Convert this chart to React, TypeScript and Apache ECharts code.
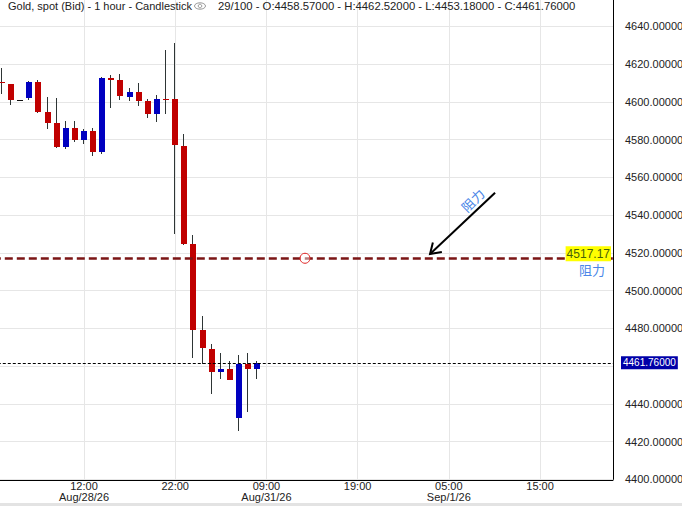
import React, { useEffect, useRef } from "react";
import * as echarts from "echarts";

const FONT = "'Liberation Sans', Arial, Helvetica, sans-serif";

// hourly sessions shown on the category axis
const sessions = [
  { day: "08/28", firstHour: 2, hours: 21 },
  { day: "08/31", firstHour: 0, hours: 24 },
  { day: "09/01", firstHour: 0, hours: 24 },
];
const categories: string[] = [];
sessions.forEach((s) => {
  for (let i = 0; i < s.hours; i++) {
    categories.push(`${s.day} ${String(s.firstHour + i).padStart(2, "0")}:00`);
  }
});

const tickLabels: Record<string, string> = {
  "08/28 12:00": "12:00\nAug/28/26",
  "08/28 22:00": "22:00",
  "08/31 09:00": "09:00\nAug/31/26",
  "08/31 19:00": "19:00",
  "09/01 05:00": "05:00\nSep/1/26",
  "09/01 15:00": "15:00",
};

const firstBar = "08/28 03:00";
const opens = [4610.6, 4609.5, 4600.9, 4602.1, 4610.6, 4594.7, 4588.9, 4576.1, 4586.2, 4579.9, 4584.6, 4573.5, 4612.7, 4611.7, 4602.7, 4605.3, 4600.5, 4593.6, 4601.6, 4601.6, 4576.7, 4524.7, 4479.1, 4469.0, 4456.8, 4458.4, 4432.5, 4461.1, 4458.57];
const highs = [4618.0, 4609.5, 4600.9, 4611.1, 4611.7, 4602.7, 4602.1, 4589.9, 4589.9, 4585.7, 4586.2, 4613.3, 4614.3, 4614.8, 4607.4, 4610.1, 4601.6, 4603.7, 4627.6, 4631.3, 4583.0, 4529.5, 4486.5, 4471.7, 4466.9, 4462.7, 4465.9, 4466.9, 4462.52];
const lows = [4604.2, 4598.4, 4600.9, 4601.1, 4594.2, 4585.7, 4575.6, 4575.1, 4578.8, 4577.7, 4571.4, 4572.4, 4596.8, 4601.1, 4600.5, 4597.9, 4591.5, 4589.4, 4593.8, 4530.0, 4524.2, 4464.4, 4461.1, 4445.2, 4453.1, 4452.6, 4425.6, 4435.6, 4453.18];
const closes = [4609.9, 4601.1, 4600.9, 4610.6, 4594.7, 4588.9, 4576.1, 4586.2, 4579.9, 4584.6, 4573.5, 4612.7, 4611.7, 4603.2, 4605.3, 4600.5, 4593.6, 4601.6, 4601.1, 4577.2, 4524.7, 4479.1, 4469.6, 4456.8, 4458.4, 4452.6, 4461.1, 4458.4, 4461.76];

const resistance = 4517.17;
const resistanceText = "阻力";

const yMin = 4400;
const yMax = 4660;
const yStep = 20;

// annotation anchors: [category position, price]
const arrowTip = [47.94, 4519.4];
const arrowTail = [55.07, 4551.9];
const circleAt = [34.23, resistance];

const UP = "#0000c0";
const DOWN = "#c00000";
const FLAT = "#111111";
const WICK = "#2e3535";

export default function App() {
  const ref = useRef<HTMLDivElement>(null);

  useEffect(() => {
    document.body.style.margin = "0";
    const chart = echarts.init(ref.current!, null, { renderer: "svg" });
    const start = categories.indexOf(firstBar);
    const candleData = opens.map((o, i) => [start + i, o, closes[i], lows[i], highs[i]]);
    const n = opens.length;
    const lastO = opens[n - 1], lastH = highs[n - 1], lastL = lows[n - 1], lastC = closes[n - 1];
    const showTick = (_i: number, v: string) => v in tickLabels;

    chart.setOption({
      animation: false,
      backgroundColor: "#ffffff",
      grid: { left: -7.2, right: 69, top: -11.3, bottom: 26.6, containLabel: false, outerBoundsMode: "none" },
      xAxis: {
        type: "category",
        data: categories,
        boundaryGap: false,
        offset: 1,
        axisLine: { show: true, lineStyle: { color: "#000", width: 1 } },
        axisTick: { show: false },
        axisLabel: {
          interval: showTick,
          formatter: (v: string) => tickLabels[v] ?? "",
          fontFamily: FONT,
          fontSize: 11,
          lineHeight: 11,
          color: "#222",
          margin: 0,
        },
        splitLine: { show: true, interval: showTick, lineStyle: { color: "#e6e6e6", width: 1 } },
      },
      yAxis: {
        type: "value",
        position: "right",
        min: yMin,
        max: yMax,
        interval: yStep,
        axisLine: { show: true, lineStyle: { color: "#000", width: 1 } },
        axisTick: { show: false },
        axisLabel: {
          // the tick hidden under the last-price box is left blank, as in the source chart
          formatter: (v: number) => (Math.abs(v - lastC) < 8 ? "" : v.toFixed(5)),
          showMaxLabel: false,
          fontFamily: FONT,
          fontSize: 11,
          color: "#222",
          margin: 12,
        },
        splitLine: { show: true, lineStyle: { color: "#e6e6e6", width: 1 } },
      },
      series: [
        {
          type: "line",
          data: [],
          z: 1,
          markLine: {
            silent: true,
            symbol: ["none", "none"],
            animation: false,
            data: [
              {
                yAxis: resistance,
                lineStyle: { color: "rgba(0,0,0,0)", width: 1 },
                label: {
                  show: true,
                  position: "insideEndTop",
                  formatter: resistance.toFixed(2),
                  backgroundColor: "#ffff00",
                  color: "#46620a",
                  fontFamily: FONT,
                  fontSize: 12,
                  padding: [2, 1, 1, 1],
                  distance: [2, -3],
                },
              },
              {
                yAxis: resistance,
                lineStyle: { color: "rgba(0,0,0,0)", width: 1 },
                label: {
                  show: true,
                  position: "insideEndBottom",
                  formatter: resistanceText,
                  color: "#4a86e8",
                  fontFamily: "'Noto Sans CJK SC', sans-serif",
                  fontSize: 13,
                  distance: [8, 5],
                },
              },
            ],
          },
        },
        {
          type: "custom",
          z: 2,
          data: candleData,
          encode: { x: 0, y: [1, 2, 3, 4] },
          renderItem: (_params: any, api: any) => {
            const k = api.value(0);
            const o = api.value(1), c = api.value(2), l = api.value(3), h = api.value(4);
            const pO = api.coord([k, o]);
            const pC = api.coord([k, c]);
            const pL = api.coord([k, l]);
            const pH = api.coord([k, h]);
            const xc = Math.round(pO[0]);
            const top = Math.round(Math.min(pO[1], pC[1]));
            const bot = Math.round(Math.max(pO[1], pC[1]));
            const color = c > o ? UP : c < o ? DOWN : FLAT;
            return {
              type: "group",
              children: [
                {
                  type: "line",
                  shape: { x1: xc - 0.5, y1: Math.round(pH[1]), x2: xc - 0.5, y2: Math.round(pL[1]) },
                  style: { stroke: WICK, lineWidth: 1 },
                },
                {
                  type: "rect",
                  shape: { x: xc - 3, y: top, width: 6, height: Math.max(1, bot - top) },
                  style: { fill: color },
                },
              ],
            };
          },
        },
        {
          type: "line",
          data: [],
          z: 3,
          markLine: {
            silent: true,
            symbol: ["none", "none"],
            animation: false,
            data: [
              {
                yAxis: resistance,
                lineStyle: { color: "#7b1515", width: 2.5, type: [8, 4] },
                label: { show: false },
              },
              {
                yAxis: lastC,
                lineStyle: { color: "#000", width: 1, type: [3, 2] },
                label: {
                  show: true,
                  position: "end",
                  distance: 8,
                  formatter: lastC.toFixed(5),
                  backgroundColor: "#0000a8",
                  color: "#ffffff",
                  fontFamily: FONT,
                  fontSize: 10,
                  padding: [2, 2, 1, 2],
                },
              },
            ],
          },
        },
      ],
    });

    const px = (pos: number[]) => {
      const k0 = Math.floor(pos[0]);
      const f = pos[0] - k0;
      const a = chart.convertToPixel({ gridIndex: 0 }, [k0, pos[1]]) as number[];
      const b = chart.convertToPixel({ gridIndex: 0 }, [k0 + 1, pos[1]]) as number[];
      return [a[0] + f * (b[0] - a[0]), a[1]];
    };
    const tip = px(arrowTip);
    const tail = px(arrowTail);
    const circ = px(circleAt);
    const dx = tail[0] - tip[0], dy = tail[1] - tip[1];
    const len = Math.hypot(dx, dy);
    const ux = dx / len, uy = dy / len;
    const armLen = 12, th = (33 * Math.PI) / 180;
    const arm = (s: number) => [
      tip[0] + armLen * (ux * Math.cos(s * th) - uy * Math.sin(s * th)),
      tip[1] + armLen * (ux * Math.sin(s * th) + uy * Math.cos(s * th)),
    ];
    const textPos = [tip[0] + 42.5, tip[1] - 54];

    const title1 = "Gold, spot (Bid) - 1 hour - Candlestick";
    const title2 = `${n}/100 - O:${lastO.toFixed(5)} - H:${lastH.toFixed(5)} - L:${lastL.toFixed(5)} - C:${lastC.toFixed(5)}`;

    chart.setOption({
      graphic: [
        { id: "band", type: "rect", z: 50, silent: true, shape: { x: 0, y: 503, width: 682, height: 3 }, style: { fill: "#e3e3e3" } },
        { id: "t1", type: "text", z: 60, x: 8, y: 5.5, style: { text: title1, font: `11px ${FONT}`, fill: "#222", textVerticalAlign: "middle" } },
        { id: "eye1", type: "ellipse", z: 60, shape: { cx: 200, cy: 6, rx: 5.5, ry: 3.2 }, style: { fill: "none", stroke: "#999", lineWidth: 1 } },
        { id: "eye2", type: "circle", z: 60, shape: { cx: 200, cy: 6, r: 1.8 }, style: { fill: "none", stroke: "#999", lineWidth: 1 } },
        { id: "t2", type: "text", z: 60, x: 218, y: 5.5, style: { text: title2, font: `11.3px ${FONT}`, fill: "#222", textVerticalAlign: "middle" } },
        { id: "circ", type: "circle", z: 40, shape: { cx: circ[0], cy: circ[1], r: 5 }, style: { fill: "rgba(255,255,255,0.45)", stroke: "#e02020", lineWidth: 1 } },
        { id: "arrLine", type: "line", z: 40, shape: { x1: tail[0], y1: tail[1], x2: tip[0], y2: tip[1] }, style: { stroke: "#000", lineWidth: 2 } },
        { id: "arrHead", type: "polyline", z: 40, shape: { points: [arm(-1), tip, arm(1)] }, style: { stroke: "#000", lineWidth: 2, fill: "none" } },
        {
          id: "arrText", type: "text", z: 40, x: textPos[0], y: textPos[1], rotation: Math.PI / 4,
          style: { text: resistanceText, font: `13px 'Noto Sans CJK SC', sans-serif`, fill: "#4a86e8", textAlign: "center", textVerticalAlign: "middle" },
        },
      ],
    });

    return () => chart.dispose();
  }, []);

  return <div ref={ref} style={{ width: 682, height: 506 }} />;
}
